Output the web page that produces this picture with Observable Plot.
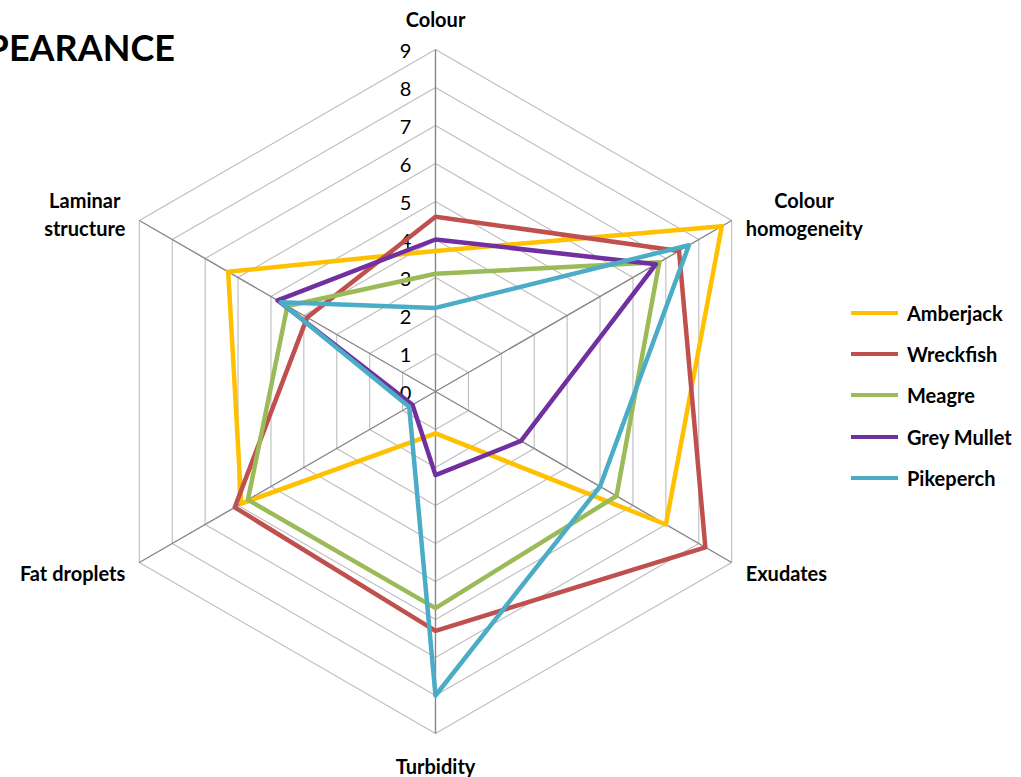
<!DOCTYPE html>
<html><head><meta charset="utf-8">
<script src="https://cdn.jsdelivr.net/npm/d3@7"></script>
<script src="https://cdn.jsdelivr.net/npm/@observablehq/plot@0.6"></script>
<style>
body{margin:0;background:#fff;}
#wrap{position:relative;width:1021px;height:777px;overflow:hidden;background:#fff;}
#title{position:absolute;right:846px;top:29px;font:bold 36px Lato, sans-serif;line-height:1;white-space:nowrap;color:#000;}
#legend{position:absolute;left:851px;top:292px;}
.item{display:flex;align-items:center;height:41.3px;font:bold 20px Lato, sans-serif;color:#000;}
.swatch{width:47px;height:4px;margin-right:9px;}
</style></head><body>
<div id="wrap"><div id="chart"></div><div id="title">APPEARANCE</div><div id="legend"></div></div>
<script>
// ---- data ----
const axes = ["Colour", "Colour\nhomogeneity", "Exudates", "Turbidity", "Fat droplets", "Laminar\nstructure"];
const series = ["Amberjack", "Wreckfish", "Meagre", "Grey Mullet", "Pikeperch"];
const amberjack  = [3.7, 8.7, 7.0, 1.1, 5.9, 6.3];
const wreckfish  = [4.6, 7.4, 8.2, 6.3, 6.1, 3.9];
const meagre     = [3.1, 6.8, 5.5, 5.7, 5.7, 4.5];
const greyMullet = [4.0, 6.7, 2.6, 2.2, 0.7, 4.8];
const pikeperch  = [2.2, 7.7, 5.0, 8.0, 0.8, 4.7];
const ticks = [0, 1, 2, 3, 4, 5, 6, 7, 8, 9];
const colors = ["#FFC000", "#C0504D", "#9BBB59", "#7030A0", "#4BACC6"];
const values = [amberjack, wreckfish, meagre, greyMullet, pikeperch];

// ---- layout ----
const W = 1021, H = 777, cx = 435, cy = 391, unit = 38;
const labelFont = 20;
const maxV = d3.max(ticks);
const ang = axes.map((d, i) => i * 2 * Math.PI / axes.length);
const pt = (i, v) => ({x: v * Math.sin(ang[i]), y: v * Math.cos(ang[i])});

const rings = ticks.filter(t => t > 0).flatMap(t => axes.map((a, i) => ({level: t, ...pt(i, t)})));
const spokes = axes.map((a, i) => ({x1: 0, y1: 0, x2: pt(i, maxV).x, y2: pt(i, maxV).y}));
const rows = series.flatMap((s, si) => values[si].map((v, i) => ({series: s, axis: axes[i], value: v, ...pt(i, v)})));

const ctx = document.createElement("canvas").getContext("2d");
ctx.font = `bold ${labelFont}px Lato`;
const labels = axes.map((a, i) => {
  const s = Math.sin(ang[i]), c = Math.cos(ang[i]);
  const p = pt(i, maxV);
  let dx = 0, dy = 0;
  if (Math.abs(s) < 0.01) { dy = c > 0 ? -31 : 32; }
  else {
    const hw = d3.max(a.split("\n"), l => ctx.measureText(l).width) / 2;
    dx = Math.sign(s) * (14 + hw);
    dy = c > 0 ? -7 : 10;
  }
  return {text: a, x: p.x + dx / unit, y: p.y - dy / unit};
});

const chart = Plot.plot({
  width: W, height: H, margin: 0,
  x: {domain: [-cx / unit, (W - cx) / unit], axis: null},
  y: {domain: [-(H - cy) / unit, cy / unit], axis: null},
  color: {domain: series, range: colors},
  style: {fontFamily: "Lato, sans-serif", background: "white"},
  marks: [
    Plot.line(rings, {x: "x", y: "y", z: "level", curve: "linear-closed", stroke: "#bdbdbd", strokeWidth: 1.1}),
    Plot.link(spokes, {x1: "x1", y1: "y1", x2: "x2", y2: "y2", stroke: "#868686", strokeWidth: 1.4}),
    Plot.text(ticks, {x: () => 0, y: d => d, text: d => String(d), dx: -30, dy: 2, fontSize: 20, fill: "#000"}),
    Plot.line(rows, {x: "x", y: "y", z: "series", stroke: "series", strokeWidth: 4.5, curve: "linear-closed", strokeLinejoin: "round"}),
    Plot.text(labels, {x: "x", y: "y", text: "text", fontSize: labelFont, fontWeight: "bold", fill: "#000", lineHeight: 1.4, textAnchor: "middle", lineAnchor: "middle"})
  ]
});
document.getElementById("chart").appendChild(chart);

const legend = d3.select("#legend");
series.forEach((s, i) => {
  const it = legend.append("div").attr("class", "item");
  it.append("div").attr("class", "swatch").style("background", colors[i]);
  it.append("span").text(s);
});
</script>
</body></html>
